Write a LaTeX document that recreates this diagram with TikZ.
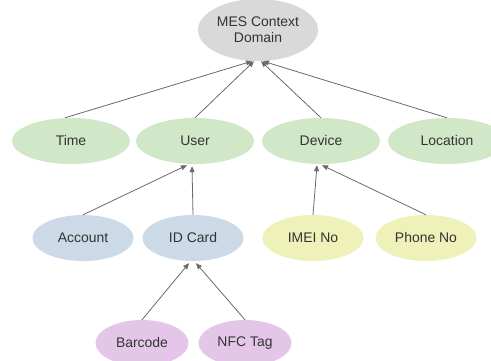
\documentclass[tikz,border=0pt]{standalone}
\usepackage{fontspec}
\setmainfont{Liberation Sans}
\usetikzlibrary{shapes.geometric,arrows.meta,calc}
\definecolor{cgray}{HTML}{D9D9D9}
\definecolor{cgreen}{HTML}{D0E8C8}
\definecolor{cblue}{HTML}{CBDAE6}
\definecolor{cyellow}{HTML}{EEF1B8}
\definecolor{cpurple}{HTML}{E3C6E8}
\definecolor{ctext}{HTML}{333333}
\definecolor{cline}{HTML}{6A6A6A}
\begin{document}
\begin{tikzpicture}[x=1bp,y=-1bp,
  ell/.style={ellipse,draw=none,inner sep=0pt,minimum height=46bp,text=ctext,font=\fontsize{14}{16}\selectfont},
  top/.style={ell,fill=cgray,minimum width=120bp,minimum height=62bp,align=center},
  lvlone/.style={ell,fill=cgreen,minimum width=118bp},
  blue/.style={ell,fill=cblue,minimum width=101bp},
  yel/.style={ell,fill=cyellow,minimum width=101bp},
  pur/.style={ell,fill=cpurple,minimum width=93bp},
  conn/.style={draw=cline,line width=0.8bp,-{Triangle[length=6bp,width=5bp]}}]
\useasboundingbox (0,0) rectangle (491,360);
\node[top] (mes) at (258,30) {MES Context\\Domain};
\node[lvlone] (time) at (71,141) {Time};
\node[lvlone] (user) at (195,141) {User};
\node[lvlone] (device) at (321,141) {Device};
\node[lvlone] (location) at (447,141) {Location};
\node[blue] (account) at (83,238) {Account};
\node[blue] (idcard) at (193,238) {ID Card};
\node[yel] (imei) at (313,238) {IMEI No};
\node[yel] (phone) at (426,238) {Phone No};
\node[pur] (barcode) at (142,343) {Barcode};
\node[pur] (nfc) at (245,343) {NFC Tag};
\draw[conn] ($(time.north)+(-6,0)$) -- ($(mes.south)+(-6,0)$);
\draw[conn] (user.north) -- ($(mes.south)+(-4,0)$);
\draw[conn] (device.north) -- ($(mes.south)+(3,0)$);
\draw[conn] (location.north) -- ($(mes.south)+(5,0)$);
\draw[conn] (account.north) -- ($(user.south)+(-8,1)$);
\draw[conn] (idcard.north) -- ($(user.south)+(-3,2)$);
\draw[conn] (imei.north) -- ($(device.south)+(-4,1)$);
\draw[conn] (phone.north) -- ($(device.south)+(1,1)$);
\draw[conn] (barcode.north) -- ($(idcard.south)+(-4,2)$);
\draw[conn] (nfc.north) -- ($(idcard.south)+(3,2)$);
\end{tikzpicture}
\end{document}
